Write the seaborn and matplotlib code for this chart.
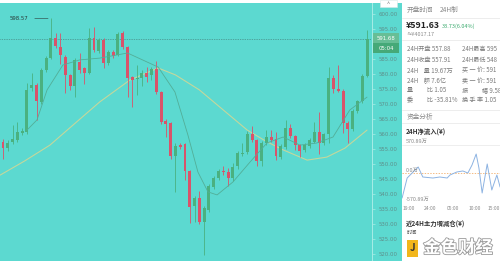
import matplotlib
matplotlib.use("Agg")
import matplotlib.pyplot as plt
from matplotlib.patches import Rectangle
import matplotlib.patheffects as pe
import numpy as np
import pandas as pd
import seaborn as sns

# ---------------- data ----------------
opens = [557.3, 555.3, 557.3, 558.0, 560.3, 560.7, 575.3, 576.3, 570.7, 581.3,
         585.3, 592.0, 589.0, 585.7, 579.7, 576.0, 584.0, 582.0, 580.3, 592.0,
         587.7, 591.3, 583.7, 587.3, 586.3, 593.7, 589.0, 579.0, 578.3, 578.7,
         580.3, 579.7, 581.7, 574.0, 564.3, 563.7, 552.7, 556.3, 556.7, 547.7,
         536.0, 538.7, 530.7, 534.7, 542.3, 545.3, 547.7, 547.3, 545.3, 549.3,
         553.3, 554.0, 560.0, 558.0, 551.0, 557.0, 559.0, 558.3, 552.3, 555.7,
         562.0, 559.3, 556.3, 554.7, 556.0, 557.3, 560.7, 557.0, 560.0, 578.7,
         575.0, 574.3, 563.7, 561.7, 567.7, 571.0, 579.3]
closes = [555.3, 557.0, 558.3, 560.7, 561.0, 574.7, 576.3, 571.0, 581.3, 585.3,
          592.0, 589.3, 586.3, 579.7, 576.0, 584.7, 581.3, 580.3, 592.0, 588.0,
          591.3, 583.7, 587.3, 586.0, 593.3, 589.0, 578.7, 578.0, 578.7, 580.3,
          579.0, 581.7, 574.0, 564.0, 563.3, 552.7, 556.0, 555.7, 547.7, 535.7,
          538.7, 530.7, 535.3, 542.7, 545.3, 547.7, 547.3, 545.3, 549.0, 553.7,
          553.8, 560.0, 558.0, 551.0, 557.0, 559.0, 558.0, 552.7, 556.0, 562.0,
          559.3, 556.3, 554.3, 556.3, 558.0, 560.7, 557.0, 560.0, 578.7, 575.0,
          574.3, 563.7, 561.7, 567.7, 571.0, 579.3, 591.68]
highs = [558.5, 558.0, 563.0, 564.0, 562.0, 577.0, 580.2, 577.0, 582.0, 586.0,
         598.57, 593.7, 593.7, 586.3, 580.0, 585.3, 587.0, 582.5, 595.3, 595.7,
         592.0, 592.0, 588.0, 588.0, 594.0, 594.2, 589.5, 579.5, 583.0, 581.5,
         582.5, 582.5, 584.3, 574.5, 565.0, 564.0, 557.0, 557.0, 557.0, 548.0,
         539.5, 541.0, 536.0, 543.3, 546.0, 548.5, 549.5, 548.7, 550.3, 554.3,
         557.0, 561.0, 562.7, 558.5, 557.7, 561.3, 561.3, 560.7, 556.7, 564.7,
         563.3, 559.7, 556.7, 557.0, 558.7, 564.0, 567.3, 560.5, 582.3, 579.7,
         583.0, 575.0, 564.3, 568.3, 571.5, 580.0, 594.7]
lows = [551.7, 554.5, 556.8, 557.5, 559.8, 560.0, 574.5, 564.7, 570.0, 580.8,
        585.0, 588.8, 583.3, 573.7, 574.7, 572.3, 580.5, 576.7, 580.0, 587.5,
        587.0, 582.0, 583.0, 585.5, 586.0, 588.5, 572.3, 569.0, 573.0, 576.0,
        577.5, 578.0, 573.5, 563.5, 559.0, 551.7, 540.7, 555.0, 544.7, 530.3,
        530.7, 530.0, 519.7, 534.0, 541.7, 544.7, 546.5, 542.7, 544.5, 548.5,
        552.7, 553.5, 557.5, 549.3, 549.3, 556.5, 557.5, 551.3, 551.7, 555.0,
        558.7, 554.7, 552.3, 554.0, 555.5, 557.0, 553.3, 556.5, 557.0, 573.7,
        574.0, 560.3, 557.0, 561.0, 567.0, 570.5, 579.0]

# moving-average lines read as points (candle position, price)
ma_short_x = [5, 7.1, 9.2, 12.5, 16, 20.2, 26, 32.4, 35.9, 38.6, 40.7, 42.8,
              44.7, 48, 51.6, 55.1, 58.5, 62, 65.5, 68.9, 72.4, 76]
ma_short_y = [561.3, 564.7, 574.7, 583.0, 584.7, 585.3, 587.0, 582.3, 574.0,
              559.7, 547.3, 540.7, 539.7, 544.0, 550.7, 557.0, 559.0, 556.3,
              557.0, 559.0, 568.0, 572.3]
ma_long_x = [-0.6, 4.5, 9.8, 13.4, 20.2, 26.5, 32.4, 36, 41, 46, 51, 55,
             58.5, 63.5, 67.6, 71.4, 76]
ma_long_y = [546.3, 551.0, 556.3, 561.3, 570.7, 578.0, 582.0, 579.7, 574.7,
             568.0, 561.3, 557.5, 554.7, 551.3, 552.3, 555.3, 561.3]

y_ticks = [520, 525, 530, 535, 540, 545, 550, 555, 560, 565, 570, 575,
           580, 585, 590, 595, 600]
last_price = 591.68
last_time = "05:04"
high_mark = 598.57

flow_hours = [-1.5, -0.4, 0.9, 2.0, 3.0, 5.2, 6.7, 8.3, 8.9, 10.4, 11.7, 12.8,
              13.7, 14.6, 15.2, 15.9, 17.0, 18.0, 19.1, 19.8]
flow_values = [-519, -104, 21, 125, -83, -104, -83, -104, -42, 21, 42, 0,
               166, 394, 104, -415, 187, -353, -42, -291]
flow_ticks = ["19:00", "24:00", "05:00", "10:00", "15:00"]

info_left = ["24H开盘 557.88", "24H收盘 557.91", "24H    量 19.67万",
             "24H    额 7.6亿", "量          比 1.05", "委          比 -35.81%"]
info_right = ["24H最高 595", "24H最低 548", "买 一 价: 591",
              "卖 一 价: 591", "振          幅 9.58", "换 手 率 1.05"]

# ---------------- style ----------------
sns.set_theme(style="white")
plt.rcParams['font.family'] = ['Noto Sans CJK SC', 'DejaVu Sans']

BG = "#5CD9D0"
RED = "#D9536A"
GREEN = "#4AB180"
W, H = 500, 261

fig = plt.figure(figsize=(5.0, 2.61), dpi=100, facecolor="white")

def fx(px):
    return px / W

def fy(py):
    return 1 - py / H

# turquoise strip behind axis labels
fig.add_artist(Rectangle((fx(372), 0), fx(402) - fx(372), fy(3), transform=fig.transFigure,
                         facecolor=BG, edgecolor="none", zorder=-5))

ax = fig.add_axes([0, 0, fx(372), fy(3)])
ax.set_facecolor(BG)
idx = np.arange(len(opens))
o = np.array(opens); c = np.array(closes)
up = c >= o
cols = np.where(up, GREEN, RED)
body_bottom = np.minimum(o, c)
body_h = np.maximum(np.abs(c - o), 0.35)
ax.vlines(idx, lows, highs, colors=cols, linewidth=0.6, zorder=3)
ax.bar(idx, body_h, bottom=body_bottom, width=0.62, color=cols, linewidth=0, zorder=4)

sns.lineplot(x=ma_long_x, y=ma_long_y, ax=ax, color="#C4D79C", linewidth=0.8, zorder=2)
sns.lineplot(x=ma_short_x, y=ma_short_y, ax=ax, color="#52AE98", linewidth=0.6, zorder=5)

ax.axhline(last_price, color="#3F6F6A", linewidth=0.5, linestyle=(0, (1, 1.5)), zorder=1)

ax.set_xlim(-0.626, 77.04)
ax.set_ylim(517.67, 603.67)
ax.set_xticks([])
ax.yaxis.tick_right()
ax.set_yticks(y_ticks)
ax.set_yticklabels([f"{v:.2f}" for v in y_ticks], fontsize=3.9, color="#5E8F8B",
                   family="DejaVu Sans")
ax.tick_params(axis="y", length=2, width=0.5, color="#A7ECE6", pad=2.5, right=True)
for s in ["top", "left", "bottom"]:
    ax.spines[s].set_visible(False)
ax.spines["right"].set_color("#A7ECE6")
ax.spines["right"].set_linewidth(0.7)

ax.annotate(f"{high_mark:.2f}", xy=(10, high_mark), xytext=(-16, 0), textcoords="offset points",
            fontsize=3.9, color="#2A3A38", va="center", ha="right", family="DejaVu Sans",
            arrowprops=dict(arrowstyle="-", color="#2A3A38", lw=0.4))

# price label boxes
fig.add_artist(Rectangle((fx(373), fy(43)), fx(399) - fx(373), fy(33) - fy(43),
                         transform=fig.transFigure, facecolor="#67BE96", edgecolor="none"))
fig.add_artist(Rectangle((fx(373), fy(53)), fx(399) - fx(373), fy(43) - fy(53),
                         transform=fig.transFigure, facecolor="#45A978", edgecolor="none"))
fig.text(fx(386), fy(38), f"{last_price:.2f}", color="white", fontsize=3.9, ha="center",
         va="center", family="DejaVu Sans")
fig.text(fx(386), fy(48), last_time, color="white", fontsize=3.9, ha="center",
         va="center", family="DejaVu Sans")
# top tab
fig.add_artist(Rectangle((fx(380), fy(7)), fx(397) - fx(380), fy(0) - fy(7),
                         transform=fig.transFigure, facecolor="white", edgecolor="#D8E8E6", lw=0.4))
fig.text(fx(388.5), fy(4), "^", fontsize=4, ha="center", va="center", color="#777")

# ---------------- right panel ----------------
fig.add_artist(Rectangle((fx(402), 0), 1 - fx(402), 1, transform=fig.transFigure,
                         facecolor="white", edgecolor="none", zorder=-4))

def t(px, py, s, size=4.6, color="#777777", **kw):
    fig.text(fx(px), fy(py), s, fontsize=size, color=color, va="center", **kw)

def hline(py, color="#E6E6E6"):
    fig.add_artist(plt.Line2D([fx(402), 1], [fy(py), fy(py)], transform=fig.transFigure,
                              color=color, linewidth=0.5))

t(407, 10, "开盘时间", 4.8, "#8A8A8A")
t(440, 10, "24H制", 4.8, "#8A8A8A")
hline(18)
t(406, 26, "¥591.63", 6.3, "#222222", fontweight="bold")
t(442, 26.5, "33.73(6.04%)", 4.0, "#3BAA6E")
t(406, 34, "≈¥4017.17", 3.9, "#8A8A8A")
hline(40)
row_y = [49, 60, 70.5, 81, 90.5, 100]
for yy, sl, sr in zip(row_y, info_left, info_right):
    t(407, yy, sl, 4.4, "#7A7A7A")
    t(462, yy, sr, 4.4, "#7A7A7A")
hline(110)
t(407, 117, "资金分析", 4.8, "#8A8A8A")
hline(123)
t(406, 132, "24H净流入(¥)", 4.6, "#333333", fontweight="bold")

fax = fig.add_axes([fx(402), fy(201), 1 - fx(402), fy(145) - fy(201)])
fax.set_facecolor("none")
fax.axhline(570.89, color="#E8E8E8", linewidth=0.5)
fax.axhline(-570.89, color="#E8E8E8", linewidth=0.5)
fax.axhline(0, color="#F0A050", linewidth=0.5, linestyle=(0, (2, 2)))
sns.lineplot(x=flow_hours, y=flow_values, ax=fax, color="#8DB3E2", linewidth=0.7)
fax.set_xlim(-1.52, 19.78)
fax.set_ylim(-581, 581)
fax.axis("off")
t(406, 141, "570.89万", 3.9, "#8A8A8A")
t(406, 170, "0.0万", 3.9, "#8A8A8A")
t(406, 199, "-570.89万", 3.9, "#8A8A8A")
for lbl, px, ha in zip(flow_ticks, [408.5, 430.5, 452.5, 474.5, 499.5],
                       ["center", "center", "center", "center", "right"]):
    t(px, 208, lbl, 3.6, "#8A8A8A", ha=ha)
t(406, 224, "近24H主力增减仓(¥)", 4.6, "#333333", fontweight="bold")

# watermark
fig.add_artist(Rectangle((fx(407), fy(257)), fx(418) - fx(407), fy(240) - fy(257),
                         transform=fig.transFigure, facecolor="#F2B61C", edgecolor="none"))
t(412.5, 248, "J", 7, "#333333", ha="center", fontweight="bold")
t(407, 233, "时间", 3.8, "#555555")
fig.text(fx(458), fy(248), "金色财经", fontsize=12.5, color="white", ha="center", va="center",
         fontweight="bold", path_effects=[pe.withStroke(linewidth=1.2, foreground="#9A9A9A")])

fig.savefig("out.png", dpi=100, facecolor="white")
